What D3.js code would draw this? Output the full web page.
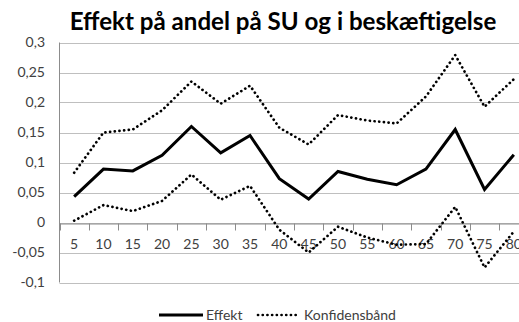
<!DOCTYPE html>
<html>
<head>
<meta charset="utf-8">
<script src="https://cdn.jsdelivr.net/npm/d3@7"></script>
<style>
  html, body { margin: 0; padding: 0; background: #fff; }
  svg { display: block; font-family: Lato, "DejaVu Sans", sans-serif; }
</style>
</head>
<body>
<svg id="chart" width="519" height="322"></svg>
<script>
// Age groups on the category axis
const categories = [5, 10, 15, 20, 25, 30, 35, 40, 45, 50, 55, 60, 65, 70, 75, 80];
// Estimated effect
const effekt = [0.043, 0.089, 0.086, 0.112, 0.160, 0.116, 0.145, 0.073, 0.039, 0.085, 0.072, 0.063, 0.089, 0.155, 0.055, 0.113];
// Upper and lower confidence bounds
const upper = [0.083, 0.150, 0.155, 0.187, 0.235, 0.198, 0.228, 0.158, 0.130, 0.179, 0.170, 0.165, 0.210, 0.279, 0.193, 0.239];
const lower = [0.003, 0.029, 0.019, 0.036, 0.080, 0.038, 0.061, -0.012, -0.050, -0.007, -0.025, -0.037, -0.036, 0.026, -0.075, -0.015];
const yTicks = [-0.1, -0.05, 0, 0.05, 0.1, 0.15, 0.2, 0.25, 0.3];
const title = "Effekt på andel på SU og i beskæftigelse";
const legendLabels = ["Effekt", "Konfidensbånd"];

const svg = d3.select("#chart");
const fmt = v => d3.format("")(+v.toFixed(2)).replace(".", ",").replace("−", "-");

const x = d3.scaleBand().domain(categories).range([59.5, 528.5]).padding(0);
const y = d3.scaleLinear().domain([-0.1, 0.3]).range([282.5, 42.5]);
const cx = d => x(d) + x.bandwidth() / 2;

// Horizontal gridlines
svg.append("g")
  .selectAll("line")
  .data(yTicks)
  .join("line")
  .attr("x1", 59.5).attr("x2", 528.5)
  .attr("y1", d => Math.round(y(d)) + 0.5).attr("y2", d => Math.round(y(d)) + 0.5)
  .attr("stroke", "#bfbfbf").attr("stroke-width", 1.2);

// Vertical axis line
svg.append("line")
  .attr("x1", 59.5).attr("x2", 59.5)
  .attr("y1", y(0.3)).attr("y2", y(-0.1))
  .attr("stroke", "#8c8c8c").attr("stroke-width", 1);

// Y tick labels
svg.append("g")
  .selectAll("text")
  .data(yTicks)
  .join("text")
  .attr("x", 45).attr("y", d => y(d))
  .attr("dy", "0.35em")
  .attr("text-anchor", "end")
  .attr("font-size", 14)
  .attr("fill", "#404040")
  .text(d => fmt(d));

// Category axis along zero
const xAxis = d3.axisBottom(x).tickSizeInner(0).tickSizeOuter(0).tickFormat(d => d);
const gx = svg.append("g").attr("transform", `translate(0,${Math.round(y(0)) + 0.5})`).call(xAxis);
gx.select(".domain").attr("stroke", "#8c8c8c").attr("stroke-width", 1);
gx.selectAll(".tick line").remove();
gx.selectAll(".tick text")
  .attr("y", 21)
  .attr("dy", "0.35em")
  .attr("font-family", "Lato, sans-serif")
  .attr("font-size", 14)
  .attr("fill", "#404040");
// Tick marks sit between categories
gx.append("g")
  .selectAll("line")
  .data(categories)
  .join("line")
  .attr("x1", d => Math.round(x(d)) + 0.5).attr("x2", d => Math.round(x(d)) + 0.5)
  .attr("y1", 0).attr("y2", 7)
  .attr("stroke", "#8c8c8c").attr("stroke-width", 1);

const line = d3.line()
  .x((d, i) => cx(categories[i]))
  .y(d => y(d));

const dotted = { "stroke-dasharray": "0.1,4.6", "stroke-linecap": "round", "stroke-width": 2.7 };

[upper, lower].forEach(series => {
  const p = svg.append("path")
    .attr("d", line(series))
    .attr("fill", "none")
    .attr("stroke", "#000");
  Object.entries(dotted).forEach(([k, v]) => p.attr(k, v));
});

svg.append("path")
  .attr("d", line(effekt))
  .attr("fill", "none")
  .attr("stroke", "#000")
  .attr("stroke-width", 3)
  .attr("stroke-linejoin", "miter");

// Title, sized to its column width
const t = svg.append("text")
  .attr("x", 283).attr("y", 30)
  .attr("text-anchor", "middle")
  .attr("font-weight", "bold")
  .attr("font-size", 21)
  .attr("fill", "#000")
  .text(title);
const tw = t.node().getComputedTextLength();
t.attr("font-size", 21 * 427 / tw);

// Legend
const lg = svg.append("g");
lg.append("line")
  .attr("x1", 159).attr("x2", 203).attr("y1", 315).attr("y2", 315)
  .attr("stroke", "#000").attr("stroke-width", 3);
lg.append("text")
  .attr("x", 206).attr("y", 315).attr("dy", "0.35em")
  .attr("font-size", 14).attr("fill", "#404040")
  .text(legendLabels[0]);
const dl = lg.append("line")
  .attr("x1", 258).attr("x2", 300).attr("y1", 315).attr("y2", 315)
  .attr("stroke", "#000");
Object.entries(dotted).forEach(([k, v]) => dl.attr(k, v));
lg.append("text")
  .attr("x", 304).attr("y", 315).attr("dy", "0.35em")
  .attr("font-size", 14).attr("fill", "#404040")
  .text(legendLabels[1]);
</script>
</body>
</html>
